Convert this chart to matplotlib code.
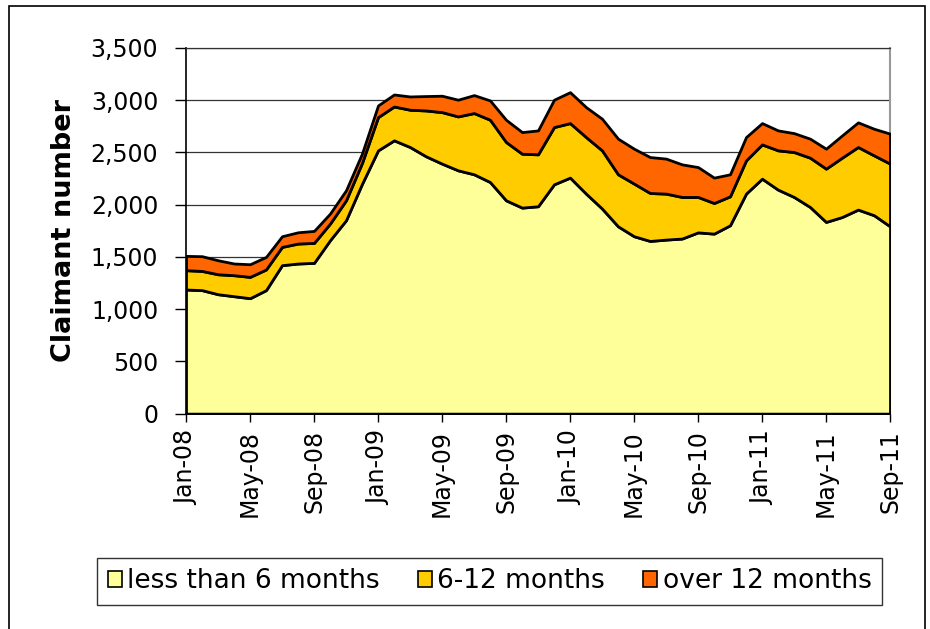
import numpy as np
import matplotlib
matplotlib.use('Agg')
import matplotlib.pyplot as plt
from matplotlib.patches import Rectangle

# DATA (monthly, Jan-08 .. Sep-11)
months = ['Jan-08', 'Feb-08', 'Mar-08', 'Apr-08', 'May-08', 'Jun-08', 'Jul-08', 'Aug-08',
          'Sep-08', 'Oct-08', 'Nov-08', 'Dec-08', 'Jan-09', 'Feb-09', 'Mar-09', 'Apr-09',
          'May-09', 'Jun-09', 'Jul-09', 'Aug-09', 'Sep-09', 'Oct-09', 'Nov-09', 'Dec-09',
          'Jan-10', 'Feb-10', 'Mar-10', 'Apr-10', 'May-10', 'Jun-10', 'Jul-10', 'Aug-10',
          'Sep-10', 'Oct-10', 'Nov-10', 'Dec-10', 'Jan-11', 'Feb-11', 'Mar-11', 'Apr-11',
          'May-11', 'Jun-11', 'Jul-11', 'Aug-11', 'Sep-11']

less_6 = [1188, 1182, 1143, 1124, 1105, 1182, 1421, 1437, 1443, 1660, 1851, 2200,
          2520, 2616, 2552, 2463, 2393, 2329, 2291, 2217, 2042, 1972, 1985, 2195,
          2259, 2106, 1963, 1793, 1698, 1653, 1666, 1676, 1735, 1723, 1803, 2106,
          2249, 2144, 2074, 1978, 1835, 1882, 1953, 1899, 1793]
m6_12 = [185, 184, 191, 201, 204, 198, 175, 191, 191, 159, 191, 200,
         318, 324, 357, 439, 493, 516, 586, 596, 558, 516, 497, 548,
         522, 541, 557, 498, 504, 459, 440, 398, 339, 293, 277, 318,
         328, 376, 430, 472, 510, 568, 599, 573, 600]
over_12 = [137, 141, 134, 112, 121, 120, 102, 108, 115, 96, 96, 90,
           112, 115, 127, 138, 157, 160, 172, 185, 213, 207, 229, 262,
           296, 287, 303, 341, 334, 344, 335, 312, 286, 243, 211, 223,
           204, 191, 181, 182, 191, 213, 236, 255, 287]

series_names = ['less than 6 months', '6-12 months', 'over 12 months']
colors = ['#FFFF99', '#FFCC00', '#FF6600']

tick_labels = ['Jan-08', 'May-08', 'Sep-08', 'Jan-09', 'May-09', 'Sep-09',
               'Jan-10', 'May-10', 'Sep-10', 'Jan-11', 'May-11', 'Sep-11']
y_ticks = [0, 500, 1000, 1500, 2000, 2500, 3000, 3500]

# PLOT
fig = plt.figure(figsize=(9.3, 6.29), dpi=100)
ax = fig.add_axes([0.2, 0.3424, 0.757, 0.5813])

x = np.arange(len(months))
polys = ax.stackplot(x, less_6, m6_12, over_12, colors=colors, labels=series_names,
                     edgecolor='black', linewidth=2, zorder=3)

ax.set_xlim(0, len(months) - 1)
ax.set_ylim(0, 3500)

ax.set_yticks(y_ticks)
ax.set_yticklabels([f'{v:,}' for v in y_ticks])
tick_pos = [months.index(m) for m in tick_labels]
ax.set_xticks(tick_pos)
ax.set_xticklabels(tick_labels, rotation=90)

ax.tick_params(axis='y', direction='out', length=8, width=1, pad=12, labelsize=17)
ax.tick_params(axis='x', direction='out', length=6, width=1, pad=6, labelsize=17)

ax.grid(axis='y', color='#333333', linewidth=0.9, zorder=1)
ax.set_axisbelow(True)

ax.spines['left'].set_linewidth(1.2)
ax.spines['bottom'].set_linewidth(1.2)
ax.spines['top'].set_color('#333333')
ax.spines['top'].set_linewidth(0.9)
ax.spines['right'].set_color('#999999')
ax.spines['right'].set_linewidth(1.5)

ax.set_ylabel('Claimant number', fontsize=19.5, fontweight='bold', labelpad=10)

# legend along the bottom
leg = fig.legend(handles=polys, labels=series_names, loc='center', ncol=3,
                 bbox_to_anchor=(0.1043, 0.0223, 0.8441, 0.1065), mode='expand',
                 fontsize=19, frameon=True, fancybox=False, edgecolor='black',
                 handlelength=0.55, handleheight=0.55, handletextpad=0.2,
                 borderaxespad=0, columnspacing=1.0)
leg.get_frame().set_linewidth(1.0)
for h in leg.legend_handles:
    h.set_linewidth(1.2)

# outer chart border
fig.patches.append(Rectangle((9 / 930, -0.05), 916 / 930, 1.05 - 6 / 629,
                             transform=fig.transFigure, fill=False,
                             edgecolor='black', linewidth=1.2))

plt.savefig('out.png', dpi=100)
